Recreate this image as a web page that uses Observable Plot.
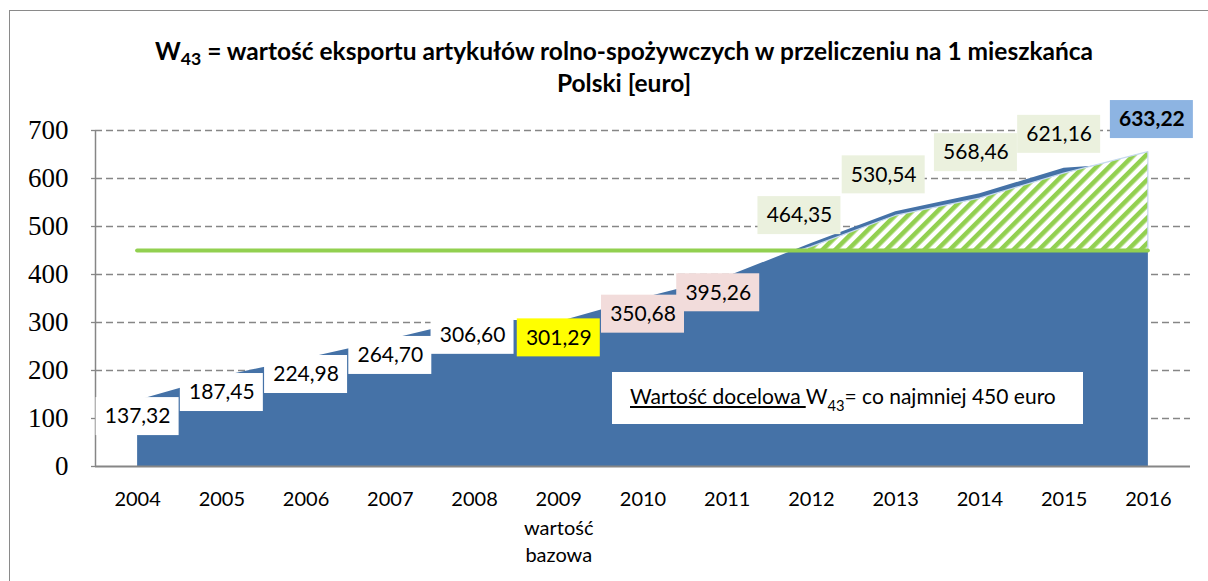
<!DOCTYPE html>
<html>
<head>
<meta charset="utf-8">
<script src="https://cdn.jsdelivr.net/npm/d3@7"></script>
<script src="https://cdn.jsdelivr.net/npm/@observablehq/plot@0.6"></script>
<style>
  html, body { margin: 0; padding: 0; background: #fff; }
  #wrap { position: relative; width: 1208px; height: 581px; overflow: hidden; background: #fff; font-family: Lato, "Open Sans", sans-serif; }
  #frame { position: absolute; left: 9px; top: 10px; width: 1300px; height: 700px; border: 1.5px solid #8a8a8a; box-sizing: border-box; }
  #chart { position: absolute; left: 0; top: 0; }
  #title { position: absolute; left: 124px; top: 35px; width: 1000px; text-align: center; font-weight: bold; font-size: 24.5px; line-height: 32px; color: #000; }
  #title sub { font-size: 0.72em; line-height: 0; vertical-align: -0.3em; }
  #note { position: absolute; left: 612px; top: 372px; width: 471px; height: 52px; background: #fff; box-sizing: border-box; padding-left: 18px; font-size: 21px; line-height: 48px; color: #000; white-space: nowrap; }
  #note sub { font-size: 0.7em; line-height: 0; vertical-align: -0.45em; }
</style>
</head>
<body>
<div id="wrap">
  <div id="frame"></div>
  <div id="chart"></div>
  <div id="title"></div>
  <div id="note"></div>
</div>
<script>
// ---- data ----
const years = [2004, 2005, 2006, 2007, 2008, 2009, 2010, 2011, 2012, 2013, 2014, 2015, 2016];
const values = [137.32, 187.45, 224.98, 264.70, 306.60, 301.29, 350.68, 395.26, 464.35, 530.54, 568.46, 621.16, 633.22];
const target = 450;
const hatchYears = [2011.87, 2012, 2013, 2014, 2015, 2016];
const hatchTop = [450, 457, 522, 558, 610, 655];
const yTicks = [0, 100, 200, 300, 400, 500, 600, 700];
const baseYear = 2009;
const baseYearNote = "wartość\nbazowa";
const titleHtml = "W<sub>43</sub> = wartość eksportu artykułów rolno-spożywczych w przeliczeniu na 1 mieszkańca<br>Polski [euro]";
const noteHtml = "<u>Wartość docelowa </u>W<sub>43</sub>= co najmniej 450 euro";

// ---- derived tables ----
const series = years.map((year, i) => ({year, value: values[i], label: values[i].toFixed(2).replace(".", ",")}));
const hatch = hatchYears.map((year, i) => ({year, top: hatchTop[i]}));

// label styling / placement (style config, not data)
function labelFill(year) {
  if (year === 2009) return "#ffff00";
  if (year === 2010 || year === 2011) return "#f2dcdb";
  if (year >= 2012 && year <= 2015) return "#ebf1de";
  if (year === 2016) return "#8db4e2";
  return "#ffffff";
}
const aboveDy = {2012: -28, 2013: -37, 2014: -41, 2015: -34, 2016: -43};
const labelDx = {2011: -9, 2012: -12, 2013: -12, 2014: -4, 2015: -5, 2016: 3.5, 2008: -2};
function labelDy(year) { return year >= 2012 ? aboveDy[year] : 16; }

const labelMarks = series.flatMap(d => [
  Plot.rect([d], {
    x1: "year", x2: "year", y1: "value", y2: "value",
    insetLeft: -41.5, insetRight: -41.5, insetTop: -19, insetBottom: -19,
    dx: labelDx[d.year] || 0, dy: labelDy(d.year),
    fill: labelFill(d.year)
  }),
  Plot.text([d], {
    x: "year", y: "value", text: "label",
    dx: labelDx[d.year] || 0, dy: labelDy(d.year),
    fontSize: 21, fontWeight: d.year === 2016 ? "bold" : "normal",
    fontFamily: "Lato", fill: "#000"
  })
]);

const plot = Plot.plot({
  width: 1208,
  height: 581,
  marginLeft: 95,
  marginRight: 18,
  marginTop: 130,
  marginBottom: 115,
  x: {domain: [2003.5, 2016.5], axis: null},
  y: {domain: [0, 700], axis: null},
  style: {background: "transparent", overflow: "visible"},
  marks: [
    Plot.ruleY(yTicks.filter(t => t > 0), {stroke: "#868686", strokeWidth: 1.3, strokeDasharray: "7,4"}),
    Plot.areaY(series, {x: "year", y: "value", fill: "#4572a7"}),
    Plot.areaY(hatch, {x: "year", y1: target, y2: "top", fill: "url(#hatch43)", stroke: "#c6d9f1", strokeWidth: 1.2}),
    Plot.ruleY([target], {x1: years[0], x2: years[years.length - 1], stroke: "#92d050", strokeWidth: 4, strokeLinecap: "round"}),
    Plot.ruleX([2003.5], {y1: 0, y2: 700, stroke: "#868686", strokeWidth: 1.5}),
    Plot.ruleY(yTicks, {x1: 2003.5, x2: 2003.5, insetLeft: -4, stroke: "#868686", strokeWidth: 1.3}),
    Plot.ruleY([0], {stroke: "#868686", strokeWidth: 2}),
    Plot.text(yTicks, {y: d => d, frameAnchor: "left", dx: -27, textAnchor: "end", lineAnchor: "middle", fontFamily: "'Liberation Serif', 'Times New Roman', serif", fontSize: 27, fill: "#000"}),
    Plot.text(years, {x: d => d, text: d => String(d), frameAnchor: "bottom", lineAnchor: "middle", dy: 33, fontFamily: "Lato", fontSize: 20, fill: "#000"}),
    Plot.text([baseYearNote], {x: baseYear, text: d => d, frameAnchor: "bottom", lineAnchor: "middle", dy: 73, lineHeight: 1.36, fontFamily: "Lato", fontSize: 20, fill: "#000"}),
    ...labelMarks
  ]
});

// hatch pattern definition
const svg = d3.select(plot);
const defs = svg.insert("defs", ":first-child");
const pat = defs.append("pattern")
  .attr("id", "hatch43")
  .attr("patternUnits", "userSpaceOnUse")
  .attr("width", 9).attr("height", 9)
  .attr("patternTransform", "rotate(45)");
pat.append("rect").attr("width", 9).attr("height", 9).attr("fill", "#ffffff");
pat.append("rect").attr("width", 4.6).attr("height", 9).attr("fill", "#92d050");

document.getElementById("chart").appendChild(plot);
document.getElementById("title").innerHTML = titleHtml;
document.getElementById("note").innerHTML = noteHtml;
</script>
</body>
</html>
